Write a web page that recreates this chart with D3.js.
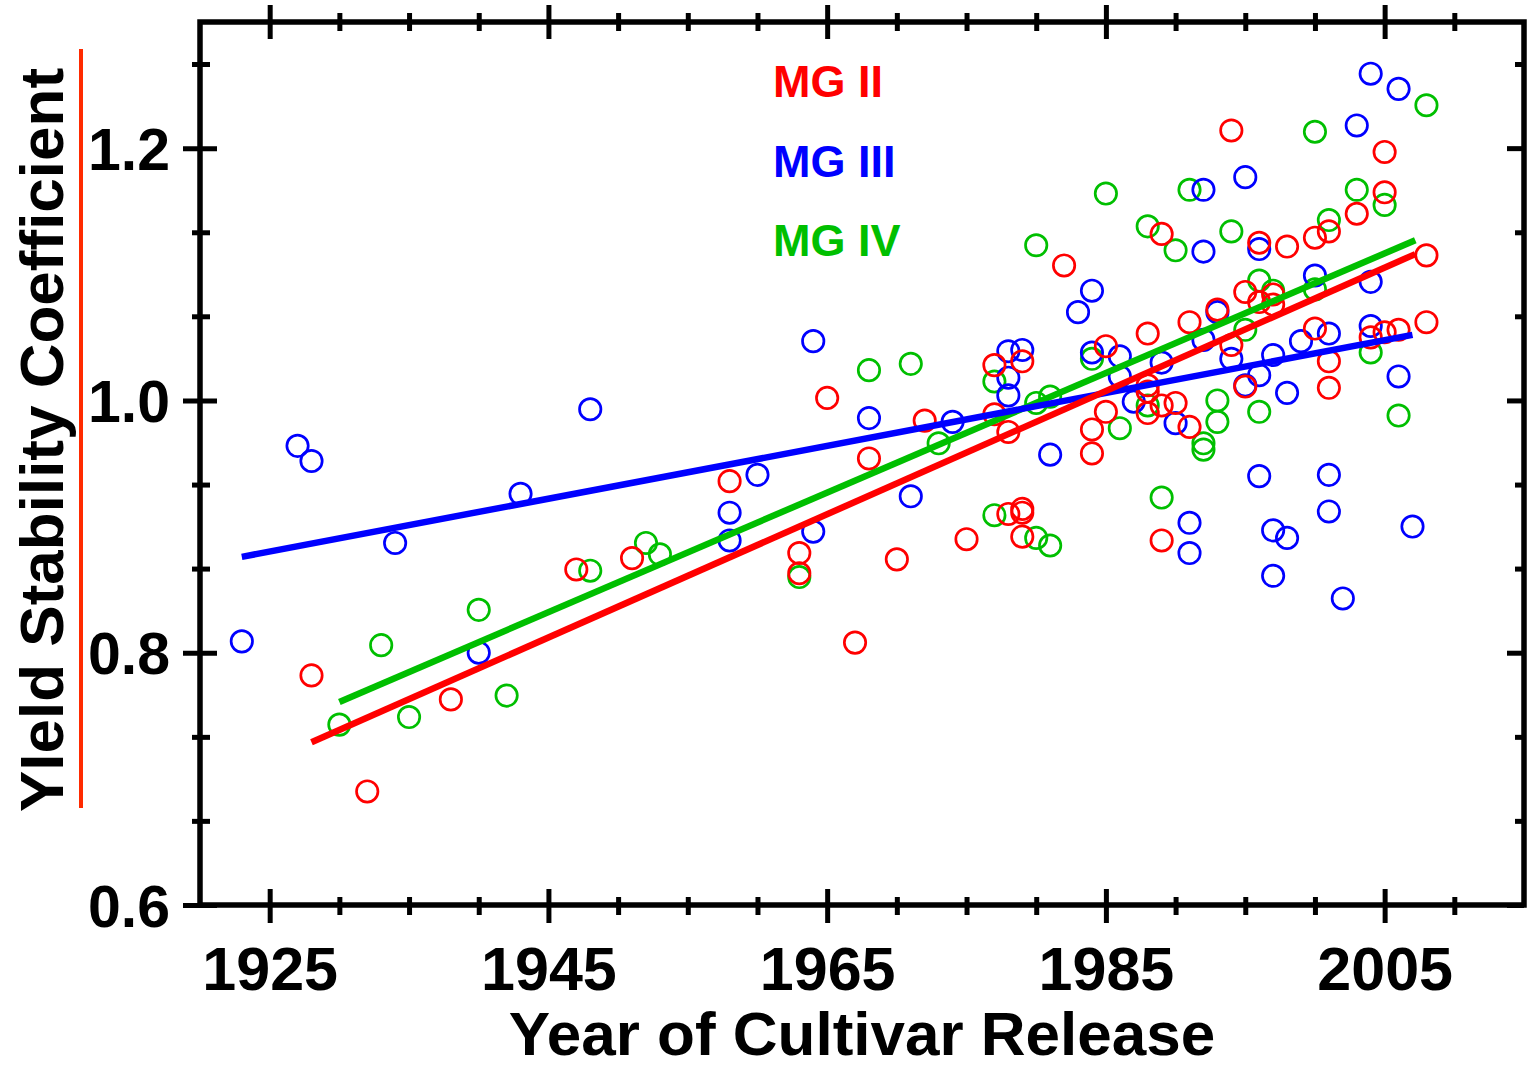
<!DOCTYPE html>
<html>
<head>
<meta charset="utf-8">
<script src="https://cdn.jsdelivr.net/npm/d3@7"></script>
<style>
  html, body { margin: 0; padding: 0; background: #fff; }
  svg { display: block; font-family: "Liberation Sans", Arial, sans-serif; font-weight: bold; }
</style>
</head>
<body>
<svg id="chart" width="1527" height="1068"></svg>
<script>
// Maturity group II (red)
const mg2Years = [1928,1932,1938,1947,1951,1958,1963,1963,1965,1967,1968,1970,1972,1975,1977,1977,1978,1978,1979,1979,1979,1979,1982,1984,1984,1985,1985,1988,1988,1988,1988,1989,1989,1989,1990,1991,1991,1993,1994,1994,1995,1995,1996,1996,1997,1997,1998,2000,2000,2001,2001,2001,2003,2004,2005,2005,2005,2006,2008,2008];
const mg2Values = [0.782,0.690,0.763,0.866,0.875,0.936,0.879,0.863,1.002,0.808,0.954,0.874,0.984,0.890,1.028,0.989,0.975,0.910,1.031,0.914,0.911,0.892,1.107,0.977,0.958,1.043,0.991,1.053,1.012,1.007,0.990,1.132,0.996,0.889,0.998,1.062,0.979,1.072,1.214,1.044,1.086,1.011,1.125,1.078,1.084,1.076,1.122,1.129,1.057,1.134,1.031,1.010,1.148,1.050,1.197,1.165,1.054,1.056,1.115,1.062];

// Maturity group III (blue)
const mg3Years = [1923,1927,1928,1934,1940,1943,1948,1958,1958,1960,1964,1964,1968,1971,1974,1978,1978,1978,1979,1981,1983,1984,1984,1986,1986,1987,1989,1990,1991,1991,1992,1992,1992,1993,1994,1995,1995,1996,1996,1996,1997,1997,1997,1998,1998,1999,2000,2001,2001,2001,2002,2003,2004,2004,2004,2006,2006,2007];
const mg3Values = [0.809,0.964,0.952,0.887,0.800,0.926,0.993,0.911,0.889,0.941,1.047,0.896,0.986,0.924,0.983,1.039,1.018,1.004,1.040,0.957,1.070,1.087,1.038,1.035,1.019,0.999,1.030,0.982,0.903,0.879,1.167,1.118,1.048,1.070,1.033,1.177,1.012,1.120,1.020,0.940,1.036,0.897,0.861,1.006,0.891,1.047,1.099,1.053,0.941,0.912,0.843,1.218,1.259,1.094,1.059,1.247,1.019,0.900];

// Maturity group IV (green)
const mg4Years = [1930,1933,1935,1940,1942,1948,1952,1953,1963,1968,1971,1973,1977,1977,1980,1980,1980,1981,1981,1984,1985,1986,1988,1988,1989,1990,1991,1992,1992,1993,1993,1994,1995,1996,1996,1997,2000,2000,2001,2003,2004,2005,2006,2008];
const mg4Values = [0.743,0.806,0.749,0.834,0.766,0.865,0.887,0.878,0.860,1.024,1.029,0.966,1.015,0.909,1.123,0.998,0.891,1.003,0.885,1.033,1.164,0.978,1.138,0.996,0.923,1.119,1.167,0.966,0.961,1.000,0.983,1.134,1.056,1.095,0.991,1.087,1.213,1.088,1.143,1.167,1.038,1.155,0.988,1.234];

// Fitted trend lines: start/end year and value
const mg2FitYears = [1928, 2007.2];
const mg2FitValues = [0.729, 1.116];
const mg3FitYears = [1923, 2007];
const mg3FitValues = [0.876, 1.052];
const mg4FitYears = [1930, 2007.2];
const mg4FitValues = [0.761, 1.127];

// Legend labels
const groupLabels = ["MG II", "MG III", "MG IV"];
const groupColors = ["#ff0000", "#0000ff", "#00bf00"];

// Axis ticks
const xMajorTicks = [1925, 1945, 1965, 1985, 2005];
const xMinorTicks = [1930, 1935, 1940, 1950, 1955, 1960, 1970, 1975, 1980, 1990, 1995, 2000, 2010];
const yMajorTicks = [0.6, 0.8, 1.0, 1.2];
const yMinorTicks = [0.6667, 0.7333, 0.8667, 0.9333, 1.0667, 1.1333, 1.2667];

const xTitle = "Year of Cultivar Release";
const yTitle = "YIeld Stability Coefficient";

const svg = d3.select("#chart");
const plot = { left: 200, right: 1524, top: 22, bottom: 905 };

const x = d3.scaleLinear().domain([1920, 2015]).range([plot.left, plot.right]);
const y = d3.scaleLinear().domain([0.6, 1.3]).range([plot.bottom, plot.top]);

const AXIS_W = 5.5;

// Adjust tick marks so they cross or sit inside the frame
function styleTicks(g, inner, outer, horizontal, sign) {
  g.select(".domain").remove();
  g.selectAll(".tick line")
    .attr("stroke", "#000")
    .attr("stroke-width", 5)
    .each(function () {
      const l = d3.select(this);
      if (horizontal) { l.attr("y1", -sign * inner).attr("y2", sign * outer).attr("x2", null); }
      else { l.attr("x1", -sign * inner).attr("x2", sign * outer).attr("y2", null); }
    });
}

// Bottom axis
const gBottom = svg.append("g").attr("transform", `translate(0,${plot.bottom})`);
gBottom.call(d3.axisBottom(x).tickValues(xMajorTicks).tickFormat(d3.format("d")).tickSizeOuter(0));
styleTicks(gBottom, 16, 18, true, 1);
gBottom.selectAll(".tick text")
  .attr("y", 85).attr("dy", null)
  .attr("font-size", 61).attr("font-weight", "bold")
  .attr("font-family", "'Liberation Sans', Arial, sans-serif")
  .attr("fill", "#000");
const gBottomMinor = svg.append("g").attr("transform", `translate(0,${plot.bottom})`);
gBottomMinor.call(d3.axisBottom(x).tickValues(xMinorTicks).tickFormat("").tickSizeOuter(0));
styleTicks(gBottomMinor, 8, 10, true, 1);

// Top axis
const gTop = svg.append("g").attr("transform", `translate(0,${plot.top})`);
gTop.call(d3.axisTop(x).tickValues(xMajorTicks).tickFormat("").tickSizeOuter(0));
styleTicks(gTop, 17, 17, true, -1);
const gTopMinor = svg.append("g").attr("transform", `translate(0,${plot.top})`);
gTopMinor.call(d3.axisTop(x).tickValues(xMinorTicks).tickFormat("").tickSizeOuter(0));
styleTicks(gTopMinor, 9, 9, true, -1);

// Left axis
const gLeft = svg.append("g").attr("transform", `translate(${plot.left},0)`);
gLeft.call(d3.axisLeft(y).tickValues(yMajorTicks).tickFormat(d3.format(".1f")).tickSizeOuter(0));
styleTicks(gLeft, 17, 17, false, -1);
gLeft.selectAll(".tick text")
  .attr("x", -30).attr("dy", "0.36em")
  .attr("font-size", 59).attr("font-weight", "bold")
  .attr("font-family", "'Liberation Sans', Arial, sans-serif")
  .attr("fill", "#000");
const gLeftMinor = svg.append("g").attr("transform", `translate(${plot.left},0)`);
gLeftMinor.call(d3.axisLeft(y).tickValues(yMinorTicks).tickFormat("").tickSizeOuter(0));
styleTicks(gLeftMinor, 10, 8, false, -1);

// Right axis (ticks point inward only)
const gRight = svg.append("g").attr("transform", `translate(${plot.right},0)`);
gRight.call(d3.axisRight(y).tickValues(yMajorTicks).tickFormat("").tickSizeOuter(0));
styleTicks(gRight, 17, 0, false, 1);
const gRightMinor = svg.append("g").attr("transform", `translate(${plot.right},0)`);
gRightMinor.call(d3.axisRight(y).tickValues(yMinorTicks).tickFormat("").tickSizeOuter(0));
styleTicks(gRightMinor, 9, 0, false, 1);

// Frame
svg.append("rect")
  .attr("x", plot.left).attr("y", plot.top)
  .attr("width", plot.right - plot.left).attr("height", plot.bottom - plot.top)
  .attr("fill", "none").attr("stroke", "#000").attr("stroke-width", AXIS_W)
  .attr("stroke-linejoin", "miter");

// Series
const groups = [
  { years: mg4Years, values: mg4Values, fy: mg4FitYears, fv: mg4FitValues, color: groupColors[2] },
  { years: mg3Years, values: mg3Values, fy: mg3FitYears, fv: mg3FitValues, color: groupColors[1] },
  { years: mg2Years, values: mg2Values, fy: mg2FitYears, fv: mg2FitValues, color: groupColors[0] }
];

const line = d3.line().x(d => x(d[0])).y(d => y(d[1]));

groups.forEach(gr => {
  svg.append("g").selectAll("circle")
    .data(d3.zip(gr.years, gr.values))
    .join("circle")
    .attr("cx", d => x(d[0]))
    .attr("cy", d => y(d[1]))
    .attr("r", 10.7)
    .attr("fill", "none")
    .attr("stroke", gr.color)
    .attr("stroke-width", 2.7);
});

// Trend lines drawn over the markers
groups.forEach(gr => {
  svg.append("path")
    .datum(d3.zip(gr.fy, gr.fv))
    .attr("d", line)
    .attr("fill", "none")
    .attr("stroke", gr.color)
    .attr("stroke-width", 6.5);
});

// Legend
const legend = svg.append("g").attr("font-size", 45).attr("font-weight", "bold");
groupLabels.forEach((lab, i) => {
  legend.append("text")
    .attr("x", 773).attr("y", 97 + i * 79.5)
    .attr("fill", groupColors[i])
    .text(lab);
});

// Axis titles
svg.append("text")
  .attr("x", (plot.left + plot.right) / 2).attr("y", 1055)
  .attr("text-anchor", "middle")
  .attr("font-size", 62)
  .attr("fill", "#000")
  .text(xTitle);

svg.append("text")
  .attr("transform", "translate(63,440) rotate(-90)")
  .attr("text-anchor", "middle")
  .attr("font-size", 62)
  .attr("fill", "#000")
  .text(yTitle);

// Accent rule beside the vertical title
svg.append("line")
  .attr("x1", 81).attr("x2", 81)
  .attr("y1", 49).attr("y2", 808)
  .attr("stroke", "#ff2a00")
  .attr("stroke-width", 4);
</script>
</body>
</html>
